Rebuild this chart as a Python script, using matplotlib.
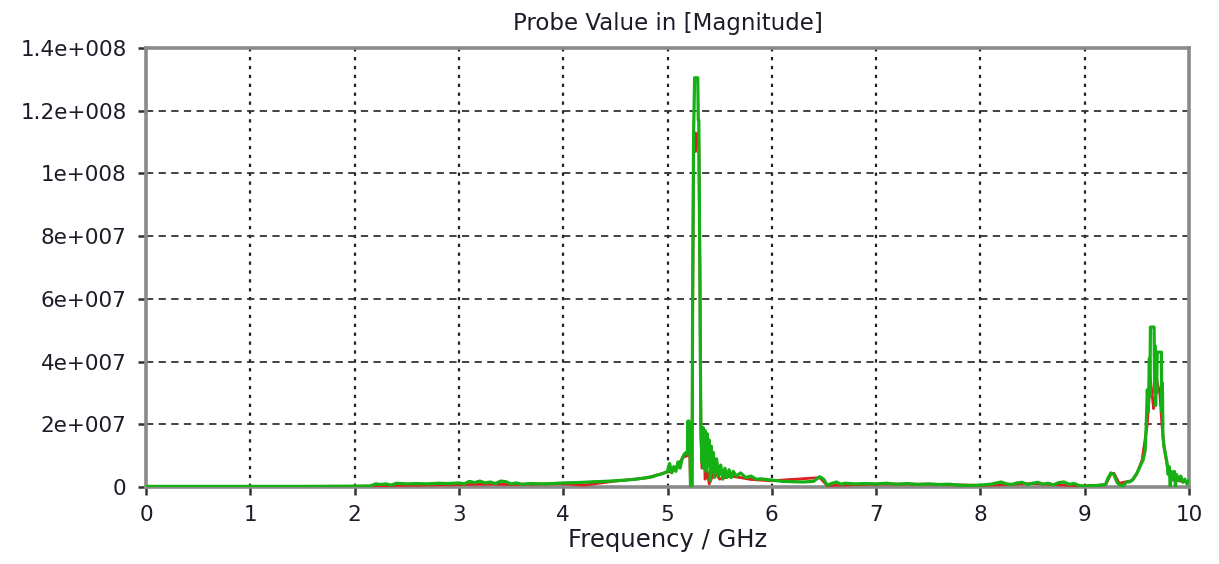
import matplotlib
matplotlib.use("Agg")
import matplotlib.pyplot as plt
from matplotlib.ticker import FixedLocator

# Probe magnitude spectrum (values in units of 1e6)
freq_main = [
    0.0, 0.5, 1.0, 1.5, 2.0, 2.15, 2.2, 2.25, 2.3, 2.35, 2.4, 2.5, 2.6, 2.7, 2.8, 2.9,
    3.0, 3.05, 3.1, 3.15, 3.2, 3.25, 3.3, 3.35, 3.4, 3.45, 3.5, 3.55, 3.6, 3.7, 3.8, 3.9,
    4.0, 4.1, 4.2, 4.3, 4.4, 4.5, 4.6, 4.7, 4.8, 4.85, 4.9, 4.95, 5.0, 5.02, 5.04, 5.06,
    5.08, 5.10, 5.12, 5.14, 5.16, 5.18, 5.19, 5.195, 5.20, 5.205, 5.21, 5.215, 5.22, 5.235,
    5.24, 5.25, 5.26, 5.29, 5.295, 5.30, 5.31, 5.315, 5.32, 5.33, 5.34, 5.35, 5.36, 5.37,
    5.38, 5.39, 5.40, 5.41, 5.42, 5.43, 5.44, 5.45, 5.47, 5.49, 5.51, 5.53, 5.55, 5.57,
    5.59, 5.61, 5.63, 5.66, 5.70, 5.75, 5.80, 5.85, 5.90, 6.0, 6.1, 6.2, 6.3, 6.4, 6.46,
    6.5, 6.53, 6.58, 6.62, 6.66, 6.7, 6.8, 6.9, 7.0, 7.1, 7.2, 7.3, 7.4, 7.5, 7.6, 7.7,
    7.8, 7.9, 8.0, 8.1, 8.2, 8.25, 8.3, 8.35, 8.4, 8.45, 8.5, 8.55, 8.6, 8.65, 8.7, 8.75,
    8.8, 8.85, 8.9, 8.95, 9.0, 9.05, 9.1, 9.15, 9.20, 9.22, 9.25, 9.28, 9.31, 9.34, 9.37,
    9.40, 9.43, 9.46, 9.50, 9.53, 9.56, 9.58, 9.59, 9.60, 9.61, 9.62, 9.625, 9.63, 9.665,
    9.67, 9.675, 9.68, 9.685, 9.69, 9.695, 9.735, 9.74, 9.745, 9.75, 9.76, 9.79, 9.80, 9.81,
    9.82, 9.83, 9.85, 9.86, 9.87, 9.88, 9.90, 9.92, 9.94, 9.96, 9.98, 10.0,
]
mag_main = [
    0.2, 0.2, 0.2, 0.2, 0.3, 0.3, 1.0, 0.8, 1.0, 0.6, 1.2, 1.0, 1.1, 1.0, 1.2, 1.1,
    1.3, 1.0, 1.8, 1.4, 1.9, 1.3, 1.6, 1.1, 1.9, 1.7, 1.0, 1.3, 0.9, 1.1, 1.0, 1.1,
    1.3, 1.4, 1.5, 1.7, 1.8, 2.0, 2.2, 2.5, 3.0, 3.2, 3.8, 4.2, 5.0, 7.5, 4.5, 6.5,
    5.0, 8.0, 6.0, 9.0, 10.5, 11.0, 10.5, 21.0, 12.0, 21.0, 13.0, 20.0, 0.5, 0.5,
    53.0, 113.0, 130.5, 130.5, 117.0, 117.0, 70.0, 41.0, 19.0, 8.0, 19.0, 6.0, 18.0, 5.0,
    17.0, 7.0, 15.0, 2.0, 13.0, 5.0, 11.0, 3.0, 9.0, 3.5, 7.0, 2.5, 6.0, 3.0,
    5.5, 3.0, 5.0, 3.5, 4.5, 3.0, 3.5, 2.5, 2.6, 2.2, 1.8, 1.7, 1.6, 1.8, 3.3,
    2.4, 0.6, 1.2, 1.6, 0.9, 1.2, 1.0, 1.1, 1.0, 1.2, 0.9, 1.1, 0.8, 1.0, 0.8, 0.9,
    0.6, 0.5, 0.6, 0.9, 1.6, 1.0, 0.8, 1.3, 1.5, 0.8, 1.2, 1.5, 0.9, 1.2, 0.7, 1.4,
    1.6, 0.9, 1.1, 0.4, 0.3, 0.5, 0.4, 0.6, 0.8, 2.6, 4.5, 4.0, 1.5, 0.5, 0.4,
    1.6, 1.6, 2.3, 4.4, 6.5, 8.6, 11.8, 20.0, 31.0, 24.0, 41.0, 29.0, 51.0, 51.0,
    30.0, 45.0, 26.0, 40.0, 30.0, 43.0, 43.0, 24.0, 33.0, 16.0, 13.0, 7.6, 4.0, 6.5,
    0.2, 5.0, 2.5, 5.0, 0.2, 4.0, 2.0, 3.5, 1.5, 2.5, 1.0, 2.0,
]

# Second probe, mostly hidden underneath the first
freq_ref = [
    0.0, 2.0, 2.4, 3.3, 3.5, 4.0, 4.2, 4.5, 4.8, 5.0, 5.05, 5.1, 5.15, 5.19, 5.2, 5.21,
    5.22, 5.235, 5.24, 5.25, 5.26, 5.27, 5.28, 5.29, 5.30, 5.31, 5.315, 5.32, 5.33, 5.35,
    5.36, 5.38, 5.40, 5.45, 5.5, 5.6, 5.7, 5.8, 6.0, 6.46, 6.53, 7.0, 7.5, 8.0, 8.5, 9.0,
    9.2, 9.25, 9.28, 9.33, 9.45, 9.5, 9.55, 9.6, 9.62, 9.63, 9.645, 9.66, 9.675, 9.69,
    9.72, 9.74, 9.76, 9.8, 9.85, 9.9, 10.0,
]
mag_ref = [
    0.1, 0.2, 0.5, 0.9, 0.8, 1.0, 0.6, 1.9, 2.9, 4.8, 5.0, 7.0, 9.5, 10.0, 18.0, 15.0,
    0.5, 0.5, 53.0, 110.0, 113.0, 107.0, 112.0, 113.0, 110.0, 70.0, 41.0, 17.0, 6.0, 15.0,
    2.5, 5.0, 1.0, 5.0, 2.5, 3.5, 3.0, 2.4, 2.0, 3.0, 0.5, 0.9, 0.9, 0.5, 1.1, 0.3,
    0.7, 4.0, 4.4, 1.2, 2.0, 4.2, 8.6, 20.0, 30.0, 34.0, 30.0, 25.0, 28.0, 34.0,
    30.0, 20.0, 13.0, 5.0, 2.2, 2.0, 1.5,
]

x_ticks = [0, 1, 2, 3, 4, 5, 6, 7, 8, 9, 10]
y_ticks = [0, 2e7, 4e7, 6e7, 8e7, 1e8, 1.2e8, 1.4e8]
y_tick_labels = ["0", "2e+007", "4e+007", "6e+007", "8e+007",
                 "1e+008", "1.2e+008", "1.4e+008"]

plt.rcParams["font.family"] = ["DejaVu Sans"]
text_color = "#1c1c28"

fig = plt.figure(figsize=(12.19, 5.64), dpi=100)
ax = fig.add_axes([0.1198, 0.1365, 0.8556, 0.7784])

ax.plot(freq_ref, [v * 1e6 for v in mag_ref], color="#dd2020", lw=2.0, zorder=3)
ax.plot(freq_main, [v * 1e6 for v in mag_main], color="#14b014", lw=2.3, zorder=4)

ax.set_xlim(0, 10)
ax.set_ylim(0, 1.4e8)
ax.xaxis.set_major_locator(FixedLocator(x_ticks))
ax.yaxis.set_major_locator(FixedLocator(y_ticks))
ax.set_xticklabels([str(t) for t in x_ticks])
ax.set_yticklabels(y_tick_labels)

ax.xaxis.grid(True, color="#222222", linestyle=(0, (1.5, 2.5)), lw=1.6)
ax.yaxis.grid(True, color="#333333", linestyle=(0, (4, 3)), lw=1.3)
ax.set_axisbelow(True)

for side in ("left", "bottom", "top", "right"):
    ax.spines[side].set_color("#8a8a8a")
    ax.spines[side].set_linewidth(2.6)

ax.tick_params(axis="both", direction="out", length=6, width=1.8,
               color="#333333", labelsize=15.5, labelcolor=text_color)
ax.tick_params(axis="x", pad=7)
ax.tick_params(axis="y", pad=8)

ax.set_title("Probe Value in [Magnitude]", fontsize=16.5, color=text_color, pad=13)
ax.set_xlabel("Frequency / GHz", fontsize=17.5, color=text_color, labelpad=2)

fig.savefig("out.png", dpi=100)
